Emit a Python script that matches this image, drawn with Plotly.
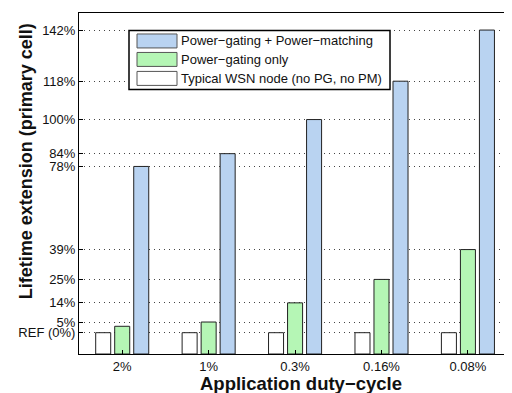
import plotly.graph_objects as go

categories = ["2%", "1%", "0.3%", "0.16%", "0.08%"]
typical = [0, 0, 0, 0, 0]
pg_only = [3, 5, 14, 25, 39]
pg_pm = [78, 84, 100, 118, 142]
tick_vals = [0, 5, 14, 25, 39, 78, 84, 100, 118, 142]
tick_text = ["REF (0%)", "5%", "14%", "25%", "39%", "78%", "84%", "100%", "118%", "142%"]
names = ["Power\u2212gating + Power\u2212matching", "Power\u2212gating only",
         "Typical WSN node (no PG, no PM)"]

Y_MIN, Y_MAX = -10, 150
BLUE, GREEN, WHITE = "#b9d3f1", "#b5f6b5", "#ffffff"
FONT = "Liberation Sans, Arial, sans-serif"

fig = go.Figure()
for vals, col, nm in [(typical, WHITE, names[2]), (pg_only, GREEN, names[1]), (pg_pm, BLUE, names[0])]:
    fig.add_trace(go.Bar(
        x=categories, y=[v - Y_MIN for v in vals], base=Y_MIN, name=nm,
        marker=dict(color=col, line=dict(color="#222222", width=1)),
        showlegend=False,
    ))

OFF = 8  # page body offset
W, H = 504, 385
L, T, B = 71, 4.5, 39
plot_w = W - L
plot_h = H - T - B

fig.update_layout(
    width=W, height=H,
    margin=dict(l=L, r=0, t=T, b=B, autoexpand=False),
    paper_bgcolor="white", plot_bgcolor="white",
    barmode="group", bargap=0.34, bargroupgap=0.21,
    font=dict(family=FONT, size=13, color="#111111"),
    xaxis=dict(
        range=[-0.5, 4.51], showline=True, linecolor="black", linewidth=1, mirror=True,
        ticks="inside", ticklen=4, tickcolor="black", showgrid=False,
        tickfont=dict(size=13),
    ),
    yaxis=dict(
        range=[Y_MIN, Y_MAX], showline=True, linecolor="black", linewidth=1, mirror=True,
        ticks="inside", ticklen=4, tickcolor="black",
        tickvals=tick_vals, ticktext=tick_text, tickfont=dict(size=13),
        showgrid=True, gridcolor="#444444", gridwidth=1, griddash="1px,4px",
        zeroline=False,
    ),
)

def px_x(p):
    return (p - OFF - L) / plot_w

def px_y(p):
    return (H - B - (p - OFF)) / plot_h

# axis titles
fig.add_annotation(xref="paper", yref="paper", x=px_x(25.5), y=px_y(161.5),
                   text="<b>Lifetime extension (primary cell)</b>", textangle=-90,
                   showarrow=False, xanchor="center", yanchor="middle",
                   font=dict(size=18, family=FONT, color="#111111"))
fig.add_annotation(xref="paper", yref="paper", x=px_x(301), y=px_y(384),
                   text="<b>Application duty\u2212cycle</b>",
                   showarrow=False, xanchor="center", yanchor="middle",
                   font=dict(size=18.5, family=FONT, color="#111111"))

# legend box
fig.add_shape(type="rect", xref="paper", yref="paper",
              x0=px_x(129), x1=px_x(390), y0=px_y(89), y1=px_y(30),
              line=dict(color="black", width=1.5), fillcolor="white", layer="above")
rows = [40.5, 59, 78]
for nm, col, yc in zip(names, [BLUE, GREEN, WHITE], rows):
    fig.add_shape(type="rect", xref="paper", yref="paper",
                  x0=px_x(137), x1=px_x(177), y0=px_y(yc + 7), y1=px_y(yc - 7),
                  line=dict(color="#555555", width=1), fillcolor=col, layer="above")
    fig.add_annotation(xref="paper", yref="paper", x=px_x(179), y=px_y(yc),
                       text=nm, showarrow=False, xanchor="left", yanchor="middle",
                       font=dict(size=13, family=FONT, color="#111111"))

fig.write_html("out.html")
